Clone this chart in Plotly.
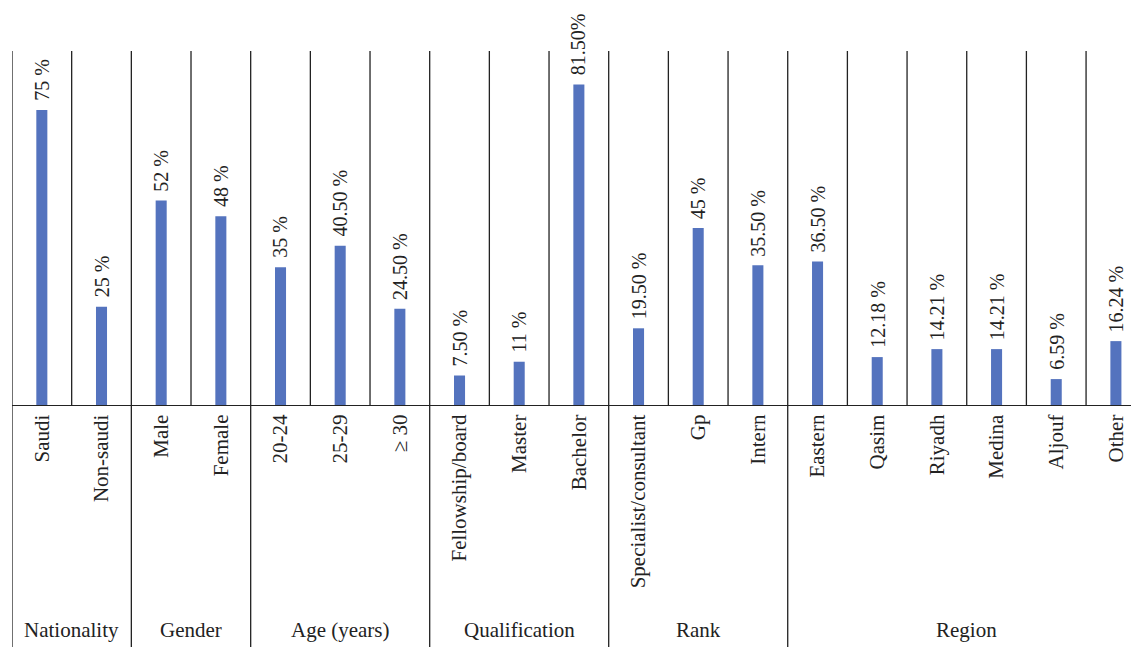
import plotly.graph_objects as go

categories = ["Saudi", "Non-saudi", "Male", "Female", "20-24", "25-29", "\u2265 30",
              "Fellowship/board", "Master", "Bachelor", "Specialist/consultant", "Gp", "Intern",
              "Eastern", "Qasim", "Riyadh", "Medina", "Aljouf", "Other"]
values = [75, 25, 52, 48, 35, 40.5, 24.5, 7.5, 11, 81.5, 19.5, 45, 35.5,
          36.5, 12.18, 14.21, 14.21, 6.59, 16.24]
value_labels = ["75 %", "25 %", "52 %", "48 %", "35 %", "40.50 %", "24.50 %",
                "7.50 %", "11 %", "81.50%", "19.50 %", "45 %", "35.50 %",
                "36.50 %", "12.18 %", "14.21 %", "14.21 %", "6.59 %", "16.24 %"]
groups = ["Nationality", "Gender", "Age (years)", "Qualification", "Rank", "Region"]
group_sizes = [2, 2, 3, 3, 3, 6]

FONT = "Liberation Serif"
LINE = "#222222"
xs = list(range(len(categories)))

fig = go.Figure(go.Bar(x=xs, y=values, width=0.185, marker_color="#5473BE",
                       marker_line_width=0, hoverinfo="skip"))

shapes = []
annotations = []
# value labels
for x, v, t in zip(xs, values, value_labels):
    annotations.append(dict(x=x, y=v, xref="x", yref="y", text=t, textangle=-90,
                            showarrow=False, xanchor="center", yanchor="bottom", yshift=7,
                            font=dict(family=FONT, size=20, color="#222")))
# separators
start = 0
group_bounds = set()
for g, n in zip(groups, group_sizes):
    group_bounds.add(start - 0.5)
    center = start + (n - 1) / 2
    annotations.append(dict(x=center, y=-0.636, xref="x", yref="paper", text=g,
                            showarrow=False, xanchor="center", yanchor="middle",
                            font=dict(family=FONT, size=21, color="#222")))
    start += n
for b in [i - 0.5 for i in range(len(categories) + 1)]:
    if b in group_bounds:
        shapes.append(dict(type="line", xref="x", yref="paper", x0=b, x1=b, y0=-0.7, y1=1,
                           line=dict(color=LINE, width=1.3)))
    else:
        shapes.append(dict(type="line", xref="x", yref="paper", x0=b, x1=b, y0=0, y1=1,
                           line=dict(color=LINE, width=1.3)))

fig.update_layout(
    width=1131, height=647,
    margin=dict(l=12, r=0, t=51, b=242),
    plot_bgcolor="white", paper_bgcolor="white",
    showlegend=False,
    shapes=shapes, annotations=annotations,
    xaxis=dict(range=[-0.5, 18.253], tickmode="array", tickvals=xs, ticktext=categories,
               tickangle=-90, ticks="", showline=True, linecolor=LINE, linewidth=1.3,
               showgrid=False, zeroline=False, fixedrange=True,
               tickfont=dict(family=FONT, size=21, color="#222")),
    yaxis=dict(range=[0, 90], visible=False, showgrid=False, zeroline=False, fixedrange=True),
)
fig.write_html("out.html")
